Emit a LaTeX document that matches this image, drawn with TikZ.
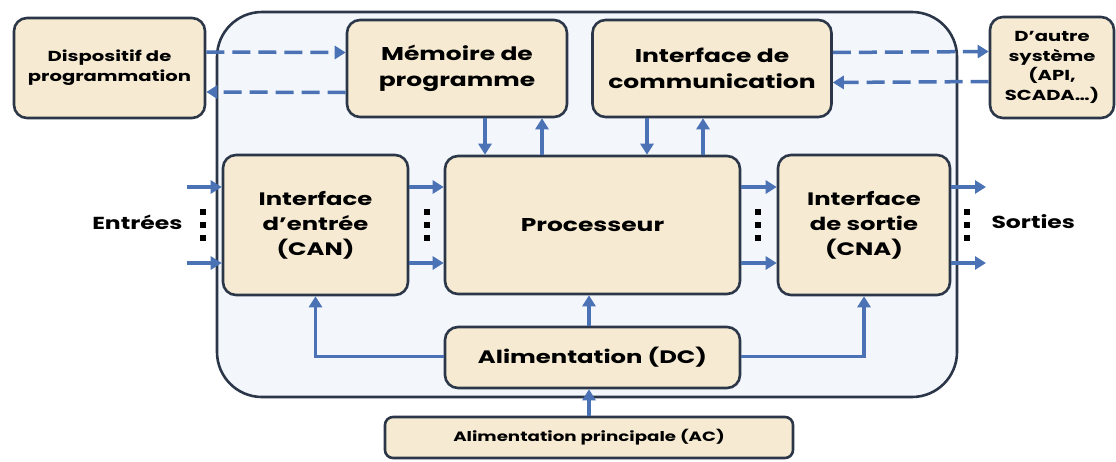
\documentclass[tikz,border=0pt]{standalone}
\usepackage{fontspec}
\setmainfont{Poppins}[FakeStretch=1.35]
\usetikzlibrary{arrows.meta}

\definecolor{boxfill}{HTML}{F6EBD2}
\definecolor{boxline}{HTML}{2B3648}
\definecolor{arrblue}{HTML}{4A72B4}
\definecolor{bgfill}{HTML}{F3F6FB}

\tikzset{
  blk/.style={draw=boxline, line width=2.6pt, fill=boxfill, rounded corners=13pt,
    align=center, inner sep=2pt},
  arr/.style={draw=arrblue, line width=3.5pt, -{Triangle[length=11pt,width=13pt]}},
  dasharr/.style={arr, dash pattern=on 18pt off 8pt},
  lbl/.style={font=\bfseries\fontsize{17.4}{20}\selectfont},
}
\newcommand{\fs}[2]{\bfseries\fontsize{#1}{#2}\selectfont}

\begin{document}
\begin{tikzpicture}[x=1pt,y=-1pt]
\useasboundingbox (0,0) rectangle (1116,461);

% automate
\draw[boxline, line width=2.6pt, fill=bgfill, rounded corners=45pt] (217,12) rectangle (957,397);

\node[blk, minimum width=191pt, minimum height=100pt, font=\fs{14.5}{20}] (disp) at (109.5,68) {Dispositif de\\programmation};
\node[blk, minimum width=220pt, minimum height=97pt, font=\fs{18.5}{26}] (mem) at (457,68.5) {Mémoire de\\programme};
\node[blk, minimum width=239pt, minimum height=97pt, font=\fs{18.5}{26}] (comm) at (712,68.5) {Interface de\\communication};
\node[blk, minimum width=124pt, minimum height=101pt, font=\fs{14.5}{19.5}] (autre) at (1052,67.5) {D’autre\\système\\(API,\\SCADA…)};

\node[blk, minimum width=185pt, minimum height=140pt, font=\fs{18}{25}] (ent) at (315.5,225) {Interface\\d’entrée\\(CAN)};
\node[blk, minimum width=295pt, minimum height=138pt, font=\fs{18.5}{24}] (proc) at (592.5,225) {Processeur};
\node[blk, minimum width=172pt, minimum height=140pt, font=\fs{18}{25}] (sort) at (864,225) {Interface\\de sortie\\(CNA)};

\node[blk, minimum width=295pt, minimum height=61pt, font=\fs{18}{24}] (dc) at (592.5,357.5) {Alimentation (DC)};
\node[blk, minimum width=408pt, minimum height=41pt, rounded corners=8pt, font=\fs{13.5}{18}] (ac) at (589,437.5) {Alimentation principale (AC)};

\node[lbl, anchor=east] (entrees) at (186,222) {Entrées};
\node[lbl, anchor=west] (sorties) at (988,222) {Sorties};

% liaisons en pointilles
\draw[dasharr] ([yshift=16pt]disp.east) -- ([yshift=16pt]mem.west);
\draw[dasharr] ([yshift=-24pt]mem.west) -- ([yshift=-24pt]disp.east);
\draw[dasharr] ([yshift=16pt]comm.east) -- ([yshift=16pt]autre.west);
\draw[dasharr] ([yshift=-14pt]autre.west) -- ([yshift=-14pt]comm.east);

% bus
\draw[arr] ([xshift=28pt]mem.south) -- ([xshift=28pt]mem.south |- proc.north);
\draw[arr] ([xshift=85pt]mem.south |- proc.north) -- ([xshift=85pt]mem.south);
\draw[arr] ([xshift=-65pt]comm.south) -- ([xshift=-65pt]comm.south |- proc.north);
\draw[arr] ([xshift=-9pt]comm.south |- proc.north) -- ([xshift=-9pt]comm.south);

\coordinate (in1) at (187,187);
\coordinate (in2) at (187,263);
\coordinate (out1) at (986,187);
\coordinate (out2) at (986,263);
\draw[arr] (in1) -- (in1 -| ent.west);
\draw[arr] (in2) -- (in2 -| ent.west);
\draw[arr] (sort.east |- out1) -- (out1);
\draw[arr] (sort.east |- out2) -- (out2);

\foreach \s in {38,-38}{
  \draw[arr] ([yshift=\s pt]ent.east) -- ([yshift=\s pt]proc.west);
  \draw[arr] ([yshift=\s pt]proc.east) -- ([yshift=\s pt]sort.west);
}

\foreach \x in {203,427,758,967}
  \foreach \y in {212,225,238}
    \fill[black] (\x-3,\y-2.8) rectangle ++(6,5.6);

% alimentation
\draw[arr] (dc.north -| ac.north) -- (proc.south -| ac.north);
\draw[arr] ([yshift=1pt]dc.west) -| (ent.south);
\draw[arr] ([yshift=1pt]dc.east) -| (sort.south);
\draw[arr] (ac.north) -- (dc.south -| ac.north);

\end{tikzpicture}
\end{document}
